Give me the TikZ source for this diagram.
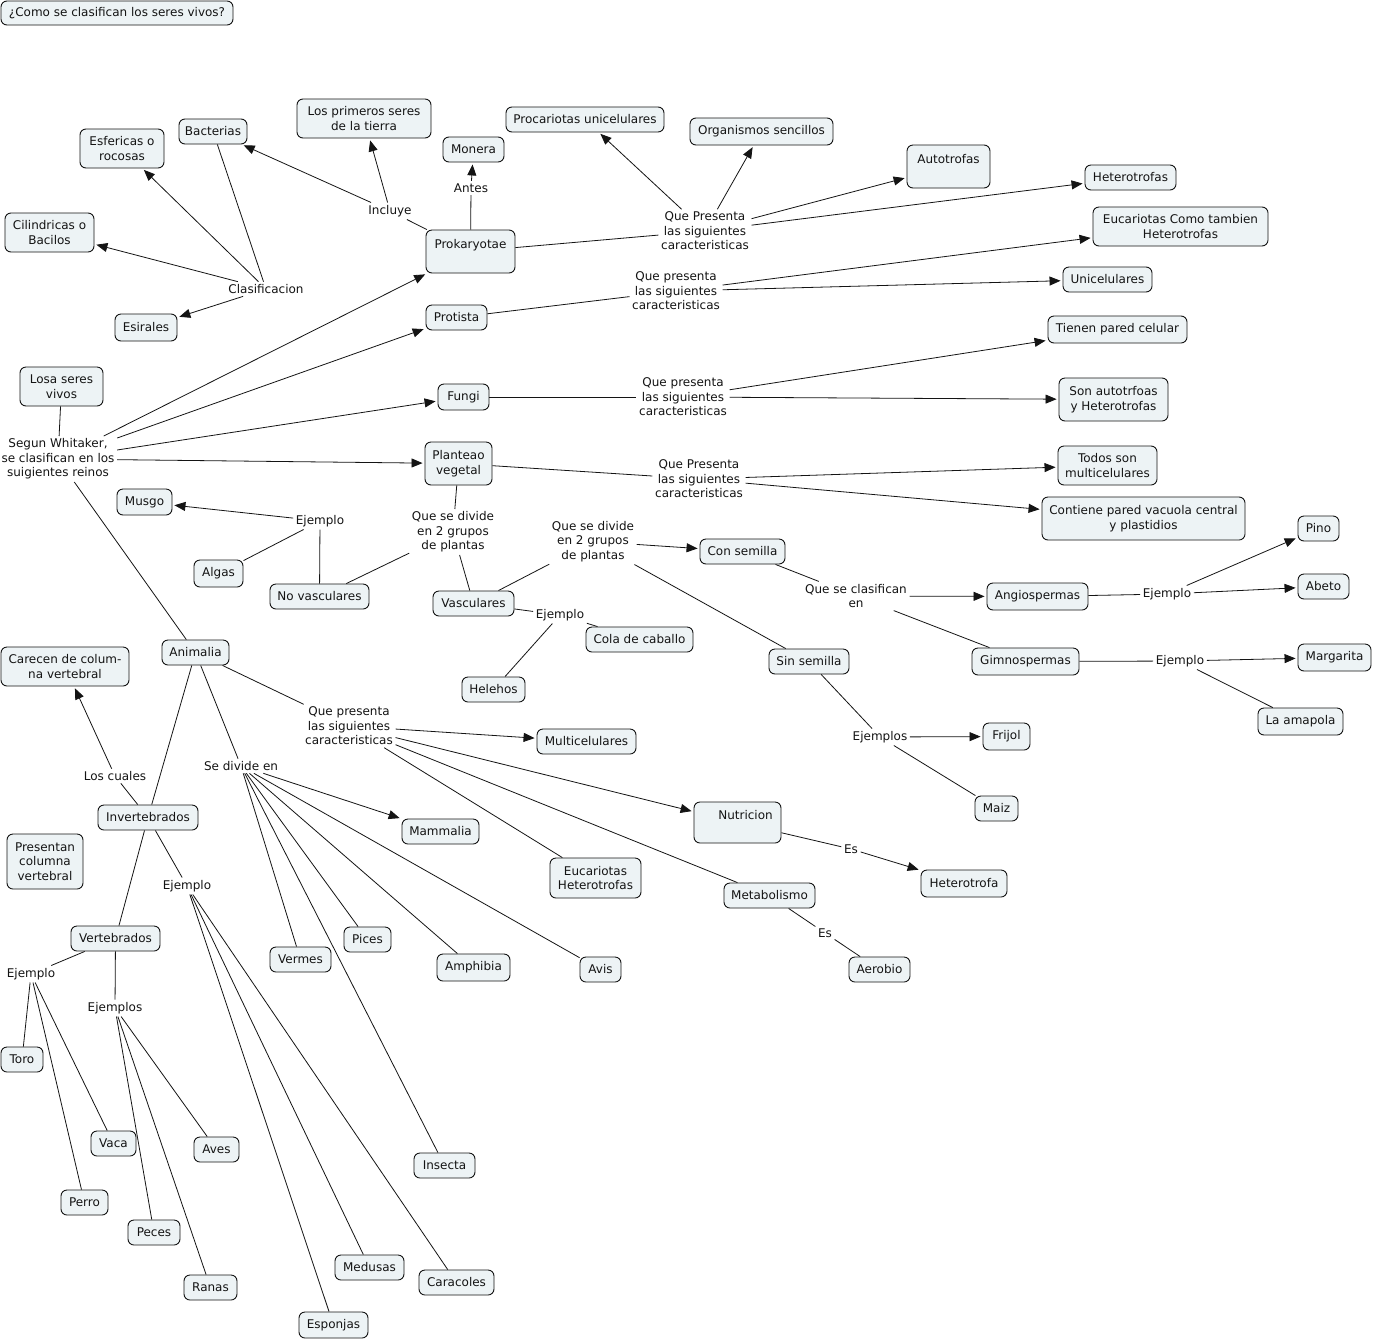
\documentclass[tikz,border=0pt]{standalone}
\usepackage{fontspec}
\setmainfont{DejaVu Sans}
\usetikzlibrary{arrows.meta}
\definecolor{boxfill}{RGB}{237,243,245}
\definecolor{ink}{RGB}{20,20,20}
\begin{document}
\begin{tikzpicture}[x=1pt,y=-1pt,
  concept/.style={draw=ink, line width=0.9pt, rounded corners=6pt, fill=boxfill, align=center, inner sep=1pt, text=ink, font=\fontsize{12}{14.5}\selectfont},
  link/.style={inner sep=2.5pt, align=center, text=ink, font=\fontsize{12}{14.5}\selectfont},
  ln/.style={draw=ink, line width=0.8pt},
  arr/.style={ln, -{Triangle[length=11pt,width=9pt]}, shorten >=2pt}]
\useasboundingbox (0,0) rectangle (1374,1342);
\fill[white] (0,0) rectangle (1374,1342);
% concepts
\node[concept, minimum width=232pt, minimum height=24pt] (title) at (117,13) {¿Como se clasifican los seres vivos?};
\node[concept, minimum width=84pt, minimum height=39pt] (esf) at (122,148.5) {Esfericas o\\rocosas};
\node[concept, minimum width=68pt, minimum height=25pt] (bact) at (213,131.5) {Bacterias};
\node[concept, minimum width=134pt, minimum height=39pt] (prim) at (364,118.5) {Los primeros seres\\de la tierra};
\node[concept, minimum width=61pt, minimum height=25pt] (mon) at (473.5,149.5) {Monera};
\node[concept, minimum width=89pt, minimum height=39pt] (cil) at (49.5,232.5) {Cilindricas o\\Bacilos};
\node[concept, minimum width=62pt, minimum height=27pt] (esi) at (146,327.5) {Esirales};
\node[concept, minimum width=89pt, minimum height=43pt] (prok) at (470.5,251.5) {Prokaryotae\\~};
\node[concept, minimum width=158pt, minimum height=25pt] (procu) at (585,119.5) {Procariotas unicelulares};
\node[concept, minimum width=143pt, minimum height=27pt] (org) at (761.5,131.5) {Organismos sencillos};
\node[concept, minimum width=83pt, minimum height=43pt] (auto) at (948.5,166.5) {Autotrofas\\~};
\node[concept, minimum width=91pt, minimum height=25pt] (het) at (1130.5,177.5) {Heterotrofas};
\node[concept, minimum width=175pt, minimum height=39pt] (euc) at (1180.5,226.5) {Eucariotas Como tambien\\Heterotrofas};
\node[concept, minimum width=61pt, minimum height=25pt] (prot) at (456.5,317.5) {Protista};
\node[concept, minimum width=89pt, minimum height=25pt] (uni) at (1107.5,279.5) {Unicelulares};
\node[concept, minimum width=83pt, minimum height=39pt] (losa) at (61.5,386.5) {Losa seres\\vivos};
\node[concept, minimum width=139pt, minimum height=27pt] (tien) at (1117.5,329.5) {Tienen pared celular};
\node[concept, minimum width=51pt, minimum height=26pt] (fungi) at (463.5,397) {Fungi};
\node[concept, minimum width=109pt, minimum height=43pt] (son) at (1113.5,399.5) {Son autotrfoas\\y Heterotrofas};
\node[concept, minimum width=67pt, minimum height=43pt] (plant) at (458.5,463.5) {Planteao\\vegetal};
\node[concept, minimum width=99pt, minimum height=39pt] (todos) at (1107.5,465.5) {Todos son\\multicelulares};
\node[concept, minimum width=203pt, minimum height=43pt] (cont) at (1143.5,518.5) {Contiene pared vacuola central\\y plastidios};
\node[concept, minimum width=55pt, minimum height=26pt] (musgo) at (144.5,502) {Musgo};
\node[concept, minimum width=49pt, minimum height=27pt] (algas) at (218.5,573.5) {Algas};
\node[concept, minimum width=99pt, minimum height=25pt] (nov) at (319.5,596.5) {No vasculares};
\node[concept, minimum width=85pt, minimum height=25pt] (con) at (742.5,551.5) {Con semilla};
\node[concept, minimum width=81pt, minimum height=25pt] (vasc) at (473.5,603.5) {Vasculares};
\node[concept, minimum width=107pt, minimum height=25pt] (cola) at (639.5,639.5) {Cola de caballo};
\node[concept, minimum width=63pt, minimum height=25pt] (hele) at (493.5,689.5) {Helehos};
\node[concept, minimum width=101pt, minimum height=27pt] (angio) at (1037.5,596.5) {Angiospermas};
\node[concept, minimum width=41pt, minimum height=25pt] (pino) at (1318.5,528.5) {Pino};
\node[concept, minimum width=51pt, minimum height=25pt] (abeto) at (1323.5,586.5) {Abeto};
\node[concept, minimum width=107pt, minimum height=27pt] (gimno) at (1025.5,661.5) {Gimnospermas};
\node[concept, minimum width=73pt, minimum height=27pt] (marg) at (1334.5,657.5) {Margarita};
\node[concept, minimum width=85pt, minimum height=27pt] (amap) at (1300.5,721.5) {La amapola};
\node[concept, minimum width=80pt, minimum height=25pt] (sin) at (809,661.5) {Sin semilla};
\node[concept, minimum width=47pt, minimum height=27pt] (frij) at (1006.5,736.5) {Frijol};
\node[concept, minimum width=43pt, minimum height=25pt] (maiz) at (996.5,808.5) {Maiz};
\node[concept, minimum width=67pt, minimum height=25pt] (anim) at (195.5,652.5) {Animalia};
\node[concept, minimum width=128pt, minimum height=39pt] (care) at (65,666.5) {Carecen de colum-\\na vertebral};
\node[concept, minimum width=99pt, minimum height=25pt] (multi) at (586.5,741.5) {Multicelulares};
\node[concept, minimum width=100pt, minimum height=25pt] (inv) at (148,817.5) {Invertebrados};
\node[concept, minimum width=77pt, minimum height=25pt] (mamm) at (440.5,831.5) {Mammalia};
\node[concept, minimum width=87pt, minimum height=41pt] (nutr) at (737.5,822.5) {\hspace*{16pt}Nutricion\\~};
\node[concept, minimum width=86pt, minimum height=27pt] (heta) at (964,883.5) {Heterotrofa};
\node[concept, minimum width=76pt, minimum height=55pt] (pres) at (45,861.5) {Presentan\\columna\\vertebral};
\node[concept, minimum width=91pt, minimum height=40pt] (eucH) at (595.5,878) {Eucariotas\\Heterotrofas};
\node[concept, minimum width=91pt, minimum height=25pt] (meta) at (769.5,895.5) {Metabolismo};
\node[concept, minimum width=89pt, minimum height=25pt] (vert) at (115.5,938.5) {Vertebrados};
\node[concept, minimum width=61pt, minimum height=25pt] (verm) at (300.5,959.5) {Vermes};
\node[concept, minimum width=47pt, minimum height=25pt] (pices) at (367.5,939.5) {Pices};
\node[concept, minimum width=73pt, minimum height=27pt] (amph) at (473.5,967.5) {Amphibia};
\node[concept, minimum width=41pt, minimum height=25pt] (avis) at (600.5,969.5) {Avis};
\node[concept, minimum width=61pt, minimum height=25pt] (aero) at (879.5,969.5) {Aerobio};
\node[concept, minimum width=42pt, minimum height=25pt] (toro) at (22,1059.5) {Toro};
\node[concept, minimum width=45pt, minimum height=25pt] (vaca) at (113.5,1143.5) {Vaca};
\node[concept, minimum width=45pt, minimum height=25pt] (aves) at (216.5,1149.5) {Aves};
\node[concept, minimum width=61pt, minimum height=25pt] (insec) at (444.5,1165.5) {Insecta};
\node[concept, minimum width=47pt, minimum height=25pt] (perro) at (84.5,1202.5) {Perro};
\node[concept, minimum width=52pt, minimum height=25pt] (peces) at (154,1232.5) {Peces};
\node[concept, minimum width=53pt, minimum height=25pt] (ranas) at (210.5,1287.5) {Ranas};
\node[concept, minimum width=69pt, minimum height=25pt] (med) at (369.5,1267.5) {Medusas};
\node[concept, minimum width=75pt, minimum height=25pt] (cara) at (456.5,1282.5) {Caracoles};
\node[concept, minimum width=69pt, minimum height=26pt] (esp) at (333.5,1325) {Esponjas};
% linking phrases
\node[link] (antes) at (471,188) {Antes};
\node[link] (incl) at (390,211) {Incluye};
\node[link] (clas) at (266,289) {Clasificacion};
\node[link] (qp1) at (705,231) {Que Presenta\\las siguientes\\caracteristicas};
\node[link] (qp2) at (676,291) {Que presenta\\las siguientes\\caracteristicas};
\node[link] (segun) at (58,459) {Segun Whitaker,\\se clasifican en los\\suigientes reinos};
\node[link] (qp3) at (683,397) {Que presenta\\las siguientes\\caracteristicas};
\node[link] (qp4) at (699,479) {Que Presenta\\las siguientes\\caracteristicas};
\node[link] (ej1) at (320,521) {Ejemplo};
\node[link] (div1) at (453,532) {Que se divide\\en 2 grupos\\de plantas};
\node[link] (div2) at (593,541.5) {Que se divide\\en 2 grupos\\de plantas};
\node[link] (ej2) at (560,615) {Ejemplo};
\node[link] (clasif) at (856,596) {Que se clasifican\\en};
\node[link] (ej3) at (1167,594) {Ejemplo};
\node[link] (ej4) at (1180,661) {Ejemplo};
\node[link] (ejs1) at (880,737) {Ejemplos};
\node[link] (qp5) at (349,726) {Que presenta\\las siguientes\\caracteristicas};
\node[link] (sediv) at (241,766) {Se divide en};
\node[link] (cuales) at (115,776) {Los cuales};
\node[link] (es1) at (851,849) {Es};
\node[link] (ej5) at (187,886) {Ejemplo};
\node[link] (es2) at (825,933) {Es};
\node[link] (ej6) at (31,974) {Ejemplo};
\node[link] (ejs2) at (115,1008) {Ejemplos};
% connectors
\draw[ln] (prok) -- (incl); \draw[arr] (incl) -- (bact); \draw[arr] (incl) -- (prim);
\draw[ln] (prok) -- (antes); \draw[arr] (antes) -- (mon);
\draw[ln] (bact) -- (clas); \draw[arr] (clas) -- (esf); \draw[arr] (clas) -- (cil); \draw[arr] (clas) -- (esi);
\draw[ln] (prok) -- (qp1); \draw[arr] (qp1) -- (procu); \draw[arr] (qp1) -- (org); \draw[arr] (qp1) -- (auto); \draw[arr] (qp1) -- (het);
\draw[ln] (prot) -- (qp2); \draw[arr] (qp2) -- (euc); \draw[arr] (qp2) -- (uni);
\draw[ln] (losa) -- (segun);
\draw[arr] (segun) -- (prok); \draw[arr] (segun) -- (prot); \draw[arr] (segun) -- (fungi); \draw[arr] (segun) -- (plant);
\draw[ln] (segun) -- (anim);
\draw[ln] (fungi) -- (qp3); \draw[arr] (qp3) -- (tien); \draw[arr] (qp3) -- (son);
\draw[ln] (plant) -- (qp4); \draw[arr] (qp4) -- (todos); \draw[arr] (qp4) -- (cont);
\draw[ln] (plant) -- (div1); \draw[ln] (div1) -- (nov); \draw[ln] (div1) -- (vasc);
\draw[ln] (nov) -- (ej1); \draw[arr] (ej1) -- (musgo); \draw[ln] (ej1) -- (algas);
\draw[ln] (vasc) -- (div2); \draw[arr] (div2) -- (con); \draw[ln] (div2) -- (sin);
\draw[ln] (vasc) -- (ej2); \draw[ln] (ej2) -- (cola); \draw[ln] (ej2) -- (hele);
\draw[ln] (con) -- (clasif); \draw[arr] (clasif) -- (angio); \draw[ln] (clasif) -- (gimno);
\draw[ln] (angio) -- (ej3); \draw[arr] (ej3) -- (pino); \draw[arr] (ej3) -- (abeto);
\draw[ln] (gimno) -- (ej4); \draw[arr] (ej4) -- (marg); \draw[ln] (ej4) -- (amap);
\draw[ln] (sin) -- (ejs1); \draw[arr] (ejs1) -- (frij); \draw[ln] (ejs1) -- (maiz);
\draw[ln] (anim) -- (qp5); \draw[arr] (qp5) -- (multi); \draw[arr] (qp5) -- (nutr); \draw[ln] (qp5) -- (eucH); \draw[ln] (qp5) -- (meta);
\draw[ln] (nutr) -- (es1); \draw[arr] (es1) -- (heta);
\draw[ln] (meta) -- (es2); \draw[ln] (es2) -- (aero);
\draw[ln] (anim) -- (sediv); \draw[arr] (sediv) -- (mamm);
\draw[ln] (sediv) -- (verm); \draw[ln] (sediv) -- (pices); \draw[ln] (sediv) -- (amph); \draw[ln] (sediv) -- (avis); \draw[ln] (sediv) -- (insec);
\draw[ln] (anim) -- (inv); \draw[ln] (inv) -- (cuales); \draw[arr] (cuales) -- (care);
\draw[ln] (inv) -- (ej5); \draw[ln] (ej5) -- (esp); \draw[ln] (ej5) -- (med); \draw[ln] (ej5) -- (cara);
\draw[ln] (inv) -- (vert);
\draw[ln] (vert) -- (ej6); \draw[ln] (ej6) -- (toro); \draw[ln] (ej6) -- (vaca); \draw[ln] (ej6) -- (perro);
\draw[ln] (vert) -- (ejs2); \draw[ln] (ejs2) -- (peces); \draw[ln] (ejs2) -- (ranas); \draw[ln] (ejs2) -- (aves);
\end{tikzpicture}
\end{document}
